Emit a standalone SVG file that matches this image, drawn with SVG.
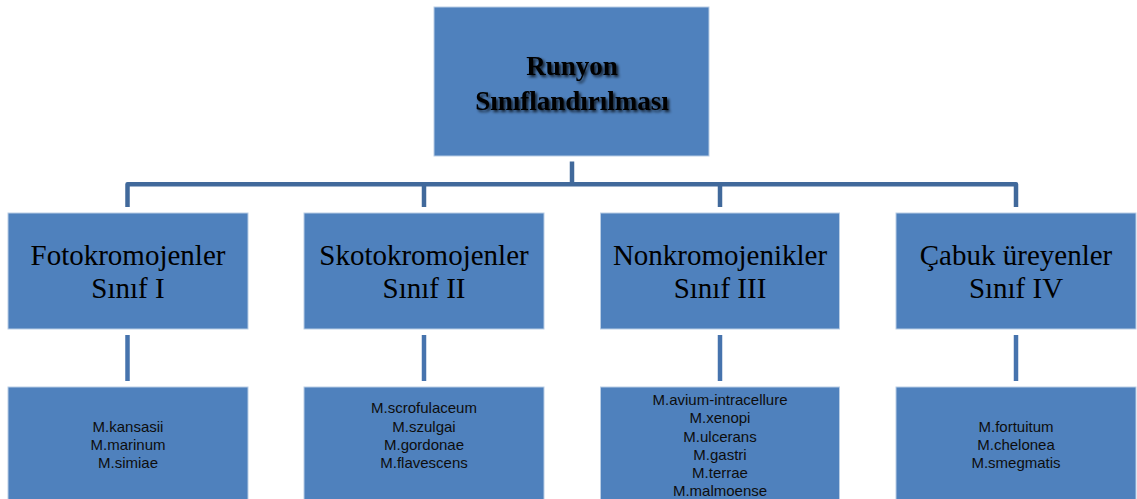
<svg xmlns="http://www.w3.org/2000/svg" width="1137" height="499" viewBox="0 0 1137 499">
  <style>
    .box { fill: #4f81bd; stroke: #b9cde5; stroke-width: 1; }
    .title { font-family: "Liberation Serif", "Times New Roman", serif; font-size: 27px; font-weight: bold; fill: #000; text-anchor: middle; }
    .cat { font-family: "Liberation Serif", "Times New Roman", serif; font-size: 29px; fill: #000; text-anchor: middle; }
    .sp { font-family: "Liberation Sans", Arial, sans-serif; font-size: 15px; fill: #0d0d0d; text-anchor: middle; }
    .conn { fill: none; stroke: #41699b; stroke-width: 4.5; stroke-linejoin: round; }
    .conn2 { fill: none; stroke: #4673ad; stroke-width: 4.5; }
  </style>
  <defs>
    <filter id="shadow" x="-20%" y="-40%" width="140%" height="180%">
      <feGaussianBlur in="SourceAlpha" stdDeviation="1.5" result="b"/>
      <feOffset in="b" dx="2" dy="2" result="o"/>
      <feComponentTransfer in="o" result="s"><feFuncA type="linear" slope="0.8"/></feComponentTransfer>
      <feMerge><feMergeNode in="s"/><feMergeNode in="SourceGraphic"/></feMerge>
    </filter>
  </defs>
  <rect width="1137" height="499" fill="#ffffff"/>

  <g id="connectors">
    <path class="conn" d="M572 161.5 V184.3"/>
    <path class="conn" d="M127.5 207 V184.3 H1016 V207"/>
    <path class="conn" d="M424 184.3 V207"/>
    <path class="conn" d="M720 184.3 V207"/>
    <path class="conn2" d="M127.5 335 V381"/>
    <path class="conn2" d="M424 335 V381"/>
    <path class="conn2" d="M720 335 V381"/>
    <path class="conn2" d="M1016 335 V381"/>
  </g>

  <g id="root">
    <rect class="box" x="434" y="7" width="275" height="149"/>
    <g filter="url(#shadow)">
      <text class="title" x="572" y="75">Runyon</text>
      <text class="title" x="572" y="110">Sınıflandırılması</text>
    </g>
  </g>

  <g id="class1">
    <rect class="box" x="8" y="213" width="240" height="116"/>
    <text class="cat" x="128" y="265">Fotokromojenler</text>
    <text class="cat" x="128" y="298">Sınıf I</text>
  </g>
  <g id="class2">
    <rect class="box" x="304" y="213" width="240" height="116"/>
    <text class="cat" x="424" y="265">Skotokromojenler</text>
    <text class="cat" x="424" y="298">Sınıf II</text>
  </g>
  <g id="class3">
    <rect class="box" x="600.5" y="213" width="239" height="116"/>
    <text class="cat" x="720" y="265">Nonkromojenikler</text>
    <text class="cat" x="720" y="298">Sınıf III</text>
  </g>
  <g id="class4">
    <rect class="box" x="896" y="213" width="240" height="116"/>
    <text class="cat" x="1016" y="265">Çabuk üreyenler</text>
    <text class="cat" x="1016" y="298">Sınıf IV</text>
  </g>

  <g id="species1">
    <rect class="box" x="8" y="387" width="240" height="130"/>
    <text class="sp" x="128" y="431.7">M.kansasii</text>
    <text class="sp" x="128" y="450">M.marinum</text>
    <text class="sp" x="128" y="468.3">M.simiae</text>
  </g>
  <g id="species2">
    <rect class="box" x="304" y="387" width="240" height="130"/>
    <text class="sp" x="424" y="413.3">M.scrofulaceum</text>
    <text class="sp" x="424" y="431.7">M.szulgai</text>
    <text class="sp" x="424" y="450">M.gordonae</text>
    <text class="sp" x="424" y="468.3">M.flavescens</text>
  </g>
  <g id="species3">
    <rect class="box" x="600.5" y="387" width="239" height="130"/>
    <text class="sp" x="720" y="405">M.avium-intracellure</text>
    <text class="sp" x="720" y="423.3">M.xenopi</text>
    <text class="sp" x="720" y="441.6">M.ulcerans</text>
    <text class="sp" x="720" y="459.9">M.gastri</text>
    <text class="sp" x="720" y="478.2">M.terrae</text>
    <text class="sp" x="720" y="496.3">M.malmoense</text>
  </g>
  <g id="species4">
    <rect class="box" x="896" y="387" width="240" height="130"/>
    <text class="sp" x="1016" y="431.7">M.fortuitum</text>
    <text class="sp" x="1016" y="450.3">M.chelonea</text>
    <text class="sp" x="1016" y="468.3">M.smegmatis</text>
  </g>
</svg>
